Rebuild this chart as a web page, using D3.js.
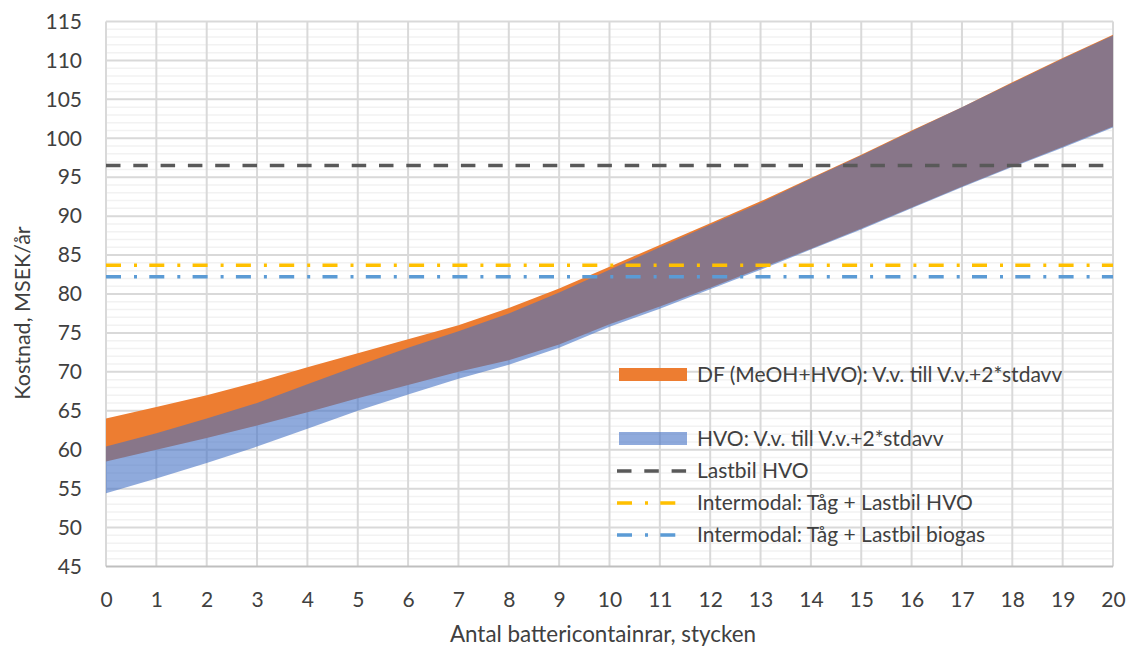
<!DOCTYPE html>
<html>
<head>
<meta charset="utf-8">
<script src="https://cdn.jsdelivr.net/npm/d3@7"></script>
<style>
  body { margin: 0; background: #fff; }
  svg { display: block; }
  text { font-family: Lato, "Open Sans", sans-serif; fill: #404040; }
</style>
</head>
<body>
<svg id="chart" width="1131" height="650"></svg>
<script>
// Number of battery containers (x categories)
const containers = [0, 1, 2, 3, 4, 5, 6, 7, 8, 9, 10, 11, 12, 13, 14, 15, 16, 17, 18, 19, 20];

// DF (MeOH+HVO): expected value (V.v.) and expected value + 2*stdavv, MSEK/år
const dfExpected = [58.5, 60.0, 61.5, 63.1, 64.8, 66.6, 68.3, 70.0, 71.5, 73.5, 76.1, 78.4, 80.8, 83.3, 85.8, 88.4, 91.1, 93.8, 96.4, 98.9, 101.5];
const dfUpper    = [64.0, 65.5, 67.0, 68.7, 70.6, 72.4, 74.2, 76.0, 78.2, 80.7, 83.5, 86.3, 89.1, 91.9, 94.9, 97.9, 101.0, 104.0, 107.2, 110.3, 113.3];

// HVO: expected value and expected value + 2*stdavv, MSEK/år
const hvoExpected = [54.4, 56.3, 58.3, 60.4, 62.7, 65.0, 67.1, 69.1, 70.9, 73.1, 75.8, 78.1, 80.6, 83.1, 85.7, 88.3, 91.0, 93.7, 96.3, 98.8, 101.4];
const hvoUpper    = [60.4, 62.1, 64.0, 66.0, 68.4, 70.8, 73.1, 75.2, 77.5, 80.2, 83.1, 86.0, 88.9, 91.7, 94.8, 97.8, 100.9, 104.0, 107.1, 110.2, 113.2];

// Reference alternatives (constant cost)
const lastbilHVO = 96.5;
const intermodalHVO = 83.7;
const intermodalBiogas = 82.2;

// Axis ticks
const yTicks = [45, 50, 55, 60, 65, 70, 75, 80, 85, 90, 95, 100, 105, 110, 115];
const xTicks = containers;

const svg = d3.select("#chart");
const x = d3.scaleLinear().domain([0, 20]).range([106, 1113]);
const y = d3.scaleLinear().domain([45, 115]).range([566.5, 21.5]);

// Minor horizontal gridlines (every unit)
svg.append("g").selectAll("line")
  .data(d3.range(45, 116, 1).filter(v => v % 5 !== 0))
  .join("line")
  .attr("x1", x(0)).attr("x2", x(20))
  .attr("y1", d => y(d)).attr("y2", d => y(d))
  .attr("stroke", "#F2F2F2").attr("stroke-width", 1.5);

// Major horizontal gridlines
svg.append("g").selectAll("line")
  .data(yTicks.filter(v => v !== 45))
  .join("line")
  .attr("x1", x(0)).attr("x2", x(20))
  .attr("y1", d => y(d)).attr("y2", d => y(d))
  .attr("stroke", "#D9D9D9").attr("stroke-width", 2);

// Vertical gridlines
svg.append("g").selectAll("line")
  .data(xTicks)
  .join("line")
  .attr("x1", d => x(d)).attr("x2", d => x(d))
  .attr("y1", y(115)).attr("y2", y(45))
  .attr("stroke", "#D9D9D9").attr("stroke-width", 2);

// Bands: DF solid, HVO semi-transparent on top
const dfRows = containers.map((c, i) => ({ c, lo: dfExpected[i], hi: dfUpper[i] }));
const hvoRows = containers.map((c, i) => ({ c, lo: hvoExpected[i], hi: hvoUpper[i] }));
const band = d3.area().x(d => x(d.c)).y0(d => y(d.lo)).y1(d => y(d.hi));

svg.append("path").datum(dfRows).attr("d", band).attr("fill", "#ED7D31");
svg.append("path").datum(hvoRows).attr("d", band).attr("fill", "#4472C4").attr("fill-opacity", 0.6);

// Bottom axis line
svg.append("line")
  .attr("x1", x(0)).attr("x2", x(20))
  .attr("y1", y(45)).attr("y2", y(45))
  .attr("stroke", "#BFBFBF").attr("stroke-width", 2);

// Constant reference lines
const refLines = [
  { name: "Lastbil HVO", value: lastbilHVO, color: "#595959", dash: "14.5,12.8" },
  { name: "Intermodal: Tåg + Lastbil HVO", value: intermodalHVO, color: "#FFC000", dash: "15,13,3,12.3" },
  { name: "Intermodal: Tåg + Lastbil biogas", value: intermodalBiogas, color: "#5B9BD5", dash: "15,13,3,12.3" }
];
svg.append("g").selectAll("line")
  .data(refLines)
  .join("line")
  .attr("x1", x(0)).attr("x2", x(20))
  .attr("y1", d => y(d.value)).attr("y2", d => y(d.value))
  .attr("stroke", d => d.color).attr("stroke-width", 3.5)
  .attr("stroke-dasharray", d => d.dash);

// Axes
const yAxis = svg.append("g")
  .attr("transform", `translate(${x(0)},0)`)
  .call(d3.axisLeft(y).tickValues(yTicks).tickSize(0).tickPadding(24));
yAxis.select(".domain").remove();
yAxis.selectAll("text").style("font-size", "21px").attr("fill", "#404040");

const xAxis = svg.append("g")
  .attr("transform", `translate(0,${y(45)})`)
  .call(d3.axisBottom(x).tickValues(xTicks).tickFormat(d3.format("d")).tickSize(0).tickPadding(26));
xAxis.select(".domain").remove();
xAxis.selectAll("text").style("font-size", "21px").attr("fill", "#404040");

// Axis titles
svg.append("text")
  .attr("x", 603).attr("y", 642)
  .attr("text-anchor", "middle").style("font-size", "22.4px")
  .text("Antal battericontainrar, stycken");

svg.append("text")
  .attr("transform", "translate(30,313) rotate(-90)")
  .attr("text-anchor", "middle").style("font-size", "21.5px")
  .text("Kostnad, MSEK/år");

// Legend (row 1 is left empty)
const legendItems = [
  { row: 0, label: "DF (MeOH+HVO): V.v. till V.v.+2*stdavv", type: "area", color: "#ED7D31", opacity: 1 },
  { row: 2, label: "HVO: V.v. till V.v.+2*stdavv", type: "area", color: "#4472C4", opacity: 0.6 },
  ...refLines.map((d, i) => ({ row: 3 + i, label: d.name, type: "line", color: d.color, dash: d.dash }))
];
const legend = svg.append("g").attr("transform", "translate(617,375)");
const rowH = 32;
const entry = legend.selectAll("g").data(legendItems).join("g")
  .attr("transform", d => `translate(0,${d.row * rowH})`);
entry.filter(d => d.type === "area").append("rect")
  .attr("x", 2).attr("y", -7).attr("width", 68).attr("height", 13)
  .attr("fill", d => d.color).attr("fill-opacity", d => d.opacity);
entry.filter(d => d.type === "line").append("line")
  .attr("x1", 0).attr("x2", 70).attr("y1", 0).attr("y2", 0)
  .attr("stroke", d => d.color).attr("stroke-width", 3.5)
  .attr("stroke-dasharray", d => d.dash);
entry.append("text")
  .attr("x", 80).attr("y", 0).attr("dy", "0.35em")
  .style("font-size", "21px")
  .text(d => d.label);
</script>
</body>
</html>
